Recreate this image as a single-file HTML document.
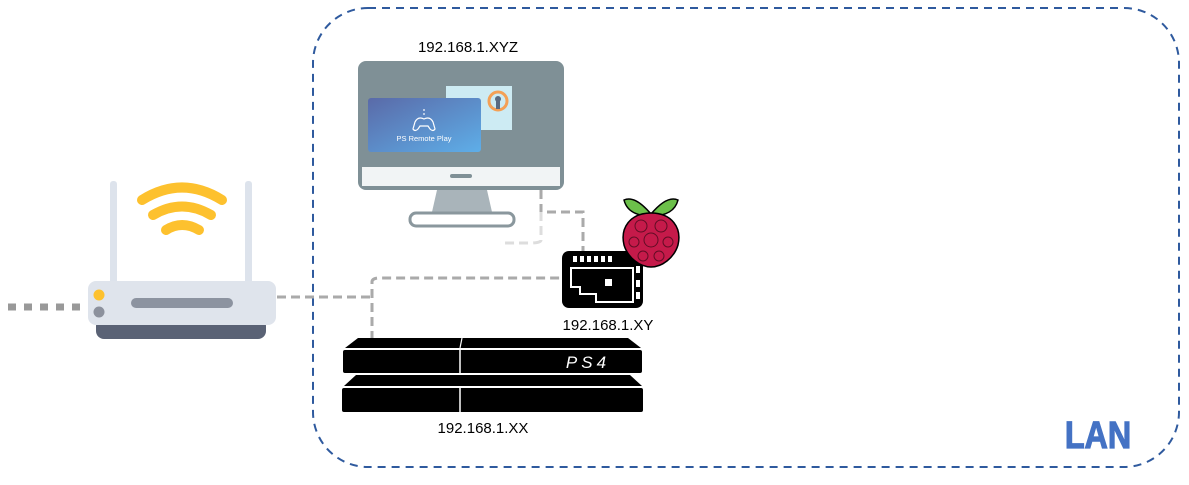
<!DOCTYPE html>
<html><head><meta charset="utf-8"><style>
html,body{margin:0;padding:0;background:#fff;}
svg{display:block;}
text{font-family:"Liberation Sans",sans-serif;}
</style></head><body>
<svg width="1189" height="485" viewBox="0 0 1189 485" xmlns="http://www.w3.org/2000/svg">
<rect x="313" y="8" width="866" height="459" rx="55" fill="none" stroke="#2f5a9e" stroke-width="2" stroke-dasharray="8,6"/>
<text x="1098" y="448" font-size="38" font-weight="bold" fill="#4472c4" stroke="#4472c4" stroke-width="1.2" text-anchor="middle" font-family="Liberation Sans Narrow,Liberation Sans,sans-serif" transform="translate(1098,0) scale(0.85,1) translate(-1098,0)">LAN</text>

<line x1="8" y1="307" x2="88" y2="307" stroke="#999" stroke-width="7" stroke-dasharray="8,8"/>

<g fill="none" stroke="#aaa" stroke-width="3" stroke-dasharray="9,5">
<path d="M277 297 H372"/>
<path d="M372 340 V282 Q372 278 380 278 H575"/>
<path d="M541 190 V212 H583 V252"/>
<path d="M541 212 V240 Q541 243 530 243 H500" stroke="#ddd"/>
</g>

<rect x="110" y="181" width="7" height="105" rx="3" fill="#dde3ec"/>
<rect x="245" y="181" width="7" height="105" rx="3" fill="#dde3ec"/>
<g fill="none" stroke="#fdc12e" stroke-width="10" stroke-linecap="round">
<path d="M142 200 Q182 175 222 200"/>
<path d="M153 215 Q182 198 211 215"/>
<path d="M166 230 Q182 220 199 230"/>
</g>
<rect x="96" y="318" width="170" height="21" rx="8" fill="#5a6275"/>
<rect x="88" y="281" width="188" height="44" rx="8" fill="#dfe4ec"/>
<circle cx="99" cy="295" r="5.5" fill="#fdc12e"/>
<circle cx="99" cy="312" r="5.5" fill="#8c919d"/>
<rect x="131" y="298" width="102" height="10" rx="5" fill="#8c93a0"/>

<path d="M437 190 L487 190 L492 212 L432 212 Z" fill="#a9b4ba"/>
<rect x="410" y="213" width="104" height="13" rx="6" fill="#fff" stroke="#8a979d" stroke-width="3"/>
<rect x="358" y="61" width="206" height="129" rx="8" fill="#7f9096"/>
<rect x="362" y="167" width="198" height="19" fill="#f1f4f5"/>
<rect x="450" y="174" width="22" height="4" rx="2" fill="#7f9096"/>
<rect x="446" y="86" width="66" height="44" fill="#cdebf3"/>
<circle cx="498" cy="101" r="9" fill="none" stroke="#f4a055" stroke-width="3"/>
<rect x="496" y="99" width="4" height="10" fill="#5a6a80"/>
<circle cx="498" cy="99" r="3" fill="#5a6a80"/>
<defs><linearGradient id="g" x1="0" y1="0" x2="1" y2="1"><stop offset="0" stop-color="#5a6aa8"/><stop offset="1" stop-color="#5eaee8"/></linearGradient></defs>
<rect x="368" y="98" width="113" height="54" rx="3" fill="url(#g)"/>
<path d="M415 122 q3-6 9-3 q6-3 9 3 l2 7 q-2 3-5 0 l-2-3 h-8 l-2 3 q-3 3-5 0z" fill="none" stroke="#fff" stroke-width="1.2"/>
<circle cx="424" cy="114" r="0.9" fill="#fff"/><circle cx="424" cy="110" r="0.9" fill="#fff"/>
<text x="424" y="141" font-size="7.5" fill="#fff" text-anchor="middle">PS Remote Play</text>
<text x="468" y="52" font-size="15" fill="#000" text-anchor="middle">192.168.1.XYZ</text>

<rect x="562" y="251" width="81" height="57" rx="7" fill="#000"/>
<g fill="#fff">
<rect x="573" y="256" width="4" height="6"/><rect x="580" y="256" width="4" height="6"/><rect x="587" y="256" width="4" height="6"/><rect x="594" y="256" width="4" height="6"/><rect x="601" y="256" width="4" height="6"/><rect x="608" y="256" width="4" height="6"/>
<path d="M571 268 H633 V302 H596 V294 H580 V287 H571 Z" fill="none" stroke="#fff" stroke-width="2"/>
<rect x="605" y="279" width="7" height="7"/>
<rect x="636" y="266" width="4" height="7"/><rect x="636" y="280" width="4" height="7"/><rect x="636" y="292" width="4" height="7"/>
</g>
<path d="M651 214 Q635 195 624 200 Q628 216 651 216Z" fill="#6cc04a" stroke="#000" stroke-width="1.5"/>
<path d="M651 214 Q667 195 678 200 Q674 216 651 216Z" fill="#6cc04a" stroke="#000" stroke-width="1.5"/>
<path d="M651 213 C630 213 620 228 624 245 C628 258 640 267 651 267 C662 267 674 258 678 245 C682 228 672 213 651 213Z" fill="#c51a4a" stroke="#000" stroke-width="1.5"/>
<g fill="none" stroke="#000" stroke-width="1" opacity="0.5">
<circle cx="641" cy="226" r="6"/><circle cx="661" cy="226" r="6"/><circle cx="651" cy="240" r="7"/><circle cx="634" cy="242" r="5"/><circle cx="668" cy="242" r="5"/><circle cx="643" cy="256" r="5"/><circle cx="659" cy="256" r="5"/>
</g>
<text x="608" y="330" font-size="15" fill="#000" text-anchor="middle">192.168.1.XY</text>

<path d="M358 338 H628 L641 348 H345 Z" fill="#000"/>
<rect x="343" y="350" width="299" height="23" rx="2" fill="#000"/>
<path d="M356 375 H630 L642 386 H344 Z" fill="#000"/>
<rect x="342" y="388" width="301" height="24" rx="2" fill="#000"/>
<line x1="460" y1="348" x2="460" y2="373" stroke="#fff" stroke-width="1.5"/>
<line x1="460" y1="388" x2="460" y2="412" stroke="#fff" stroke-width="1.5"/>
<line x1="462" y1="338" x2="460" y2="348" stroke="#fff" stroke-width="1.2"/>
<text x="588" y="368" font-size="17" fill="#fff" text-anchor="middle" font-style="italic" letter-spacing="4">PS4</text>
<text x="483" y="433" font-size="15" fill="#000" text-anchor="middle">192.168.1.XX</text>
</svg>
</body></html>
